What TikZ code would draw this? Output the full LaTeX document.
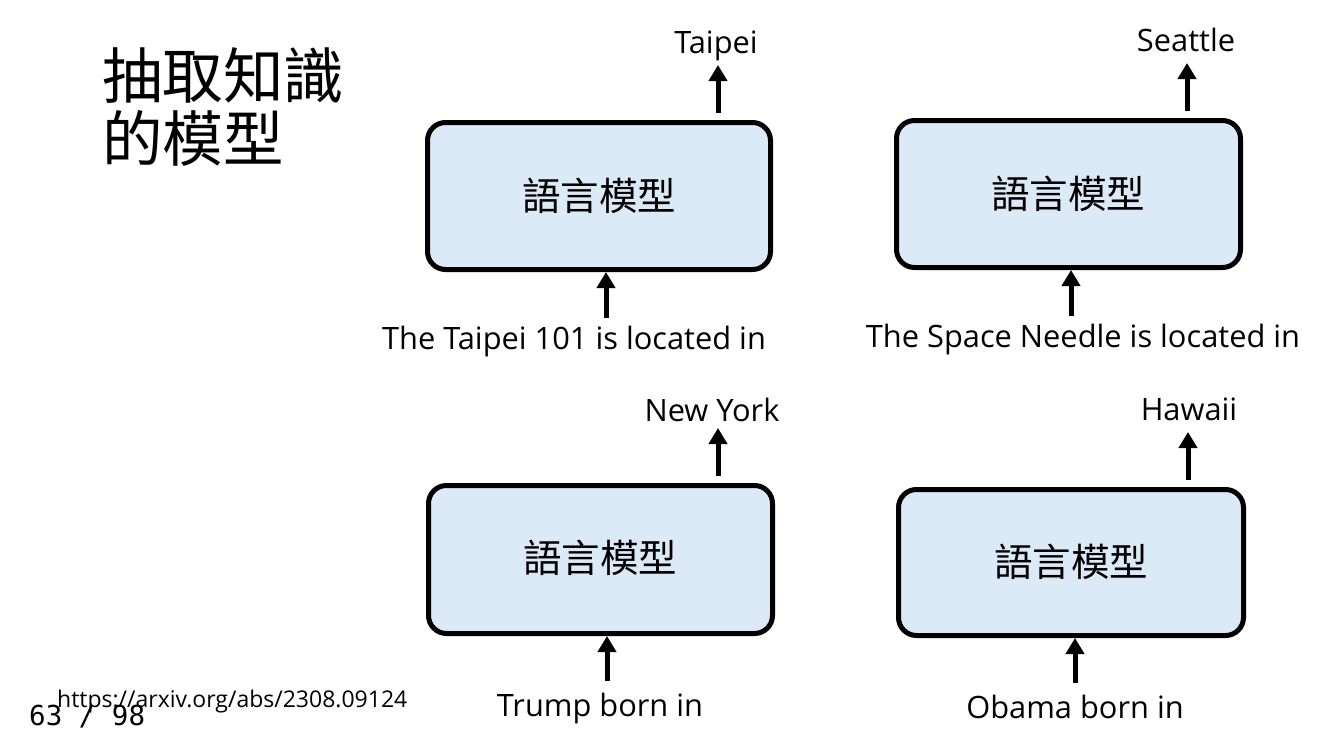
\documentclass[tikz,border=0pt]{standalone}
\usepackage{fontspec}
\setmainfont{Open Sans}
\newfontfamily\cjk{Noto Sans CJK TC}
\newfontfamily\pgmono{DejaVu Sans Mono}
\usetikzlibrary{arrows.meta}
\definecolor{boxfill}{RGB}{220,233,246}
\tikzset{
  lmbox/.style={draw=black, line width=5pt, fill=boxfill, rounded corners=18pt},
  arr/.style={line width=5pt, -{Triangle[width=18pt,length=16pt]}},
  lbl/.style={font=\fontsize{30.8}{34}\selectfont, anchor=base, inner sep=0pt},
  boxtxt/.style={font=\cjk\fontsize{38.5}{42}\selectfont},
  titletxt/.style={font=\cjk\fontsize{60.5}{64}\selectfont, anchor=base west, inner sep=0pt}
}
\begin{document}
\begin{tikzpicture}[x=1pt,y=-1pt]
\useasboundingbox (0,0) rectangle (1334,750);
% title
\node[titletxt] (t1) at (102,98) {抽取知識};
\node[titletxt] (t2) at (102,161) {的模型};
% boxes
\draw[lmbox] (427.5,122.5) rectangle (770.5,269.5);
\node[boxtxt] (b1) at (599,196) {語言模型};
\draw[lmbox] (896.5,120.5) rectangle (1240.5,267.5);
\node[boxtxt] (b2) at (1068,194) {語言模型};
\draw[lmbox] (428.5,485.5) rectangle (772.5,633.5);
\node[boxtxt] (b3) at (600,558) {語言模型};
\draw[lmbox] (898.5,489.5) rectangle (1243.5,635.5);
\node[boxtxt] (b4) at (1071,562) {語言模型};
% labels
\node[lbl] (o1) at (716,53) {Taipei};
\node[lbl] (i1) at (574,349) {The Taipei 101 is located in};
\node[lbl] (o2) at (1186,51) {Seattle};
\node[lbl] (i2) at (1083,347) {The Space Needle is located in};
\node[lbl] (o3) at (712,421) {New York};
\node[lbl] (i3) at (600,716) {Trump born in};
\node[lbl] (o4) at (1189,420) {Hawaii};
\node[lbl] (i4) at (1075,718) {Obama born in};
% arrow coordinates
\coordinate (a1s) at (718,113); \coordinate (a1e) at (718,65);
\coordinate (c1s) at (606,318); \coordinate (c1e) at (606,272);
\coordinate (a2s) at (1187,111); \coordinate (a2e) at (1187,63);
\coordinate (c2s) at (1071,316); \coordinate (c2e) at (1071,270);
\coordinate (a3s) at (718,476); \coordinate (a3e) at (718,428);
\coordinate (c3s) at (607,681); \coordinate (c3e) at (607,636);
\coordinate (a4s) at (1188,480); \coordinate (a4e) at (1188,432);
\coordinate (c4s) at (1075,683); \coordinate (c4e) at (1075,638);
\draw[arr] (a1s) -- (a1e);
\draw[arr] (c1s) -- (c1e);
\draw[arr] (a2s) -- (a2e);
\draw[arr] (c2s) -- (c2e);
\draw[arr] (a3s) -- (a3e);
\draw[arr] (c3s) -- (c3e);
\draw[arr] (a4s) -- (a4e);
\draw[arr] (c4s) -- (c4e);
% footer
\node[font=\pgmono\fontsize{27.5}{30}\selectfont, anchor=base west, inner sep=0pt] (pg) at (29,725) {63 / 98};
\node[font=\fontsize{23}{26}\selectfont, anchor=base west, inner sep=0pt] (url) at (57,707) {https://arxiv.org/abs/2308.09124};
\end{tikzpicture}
\end{document}
